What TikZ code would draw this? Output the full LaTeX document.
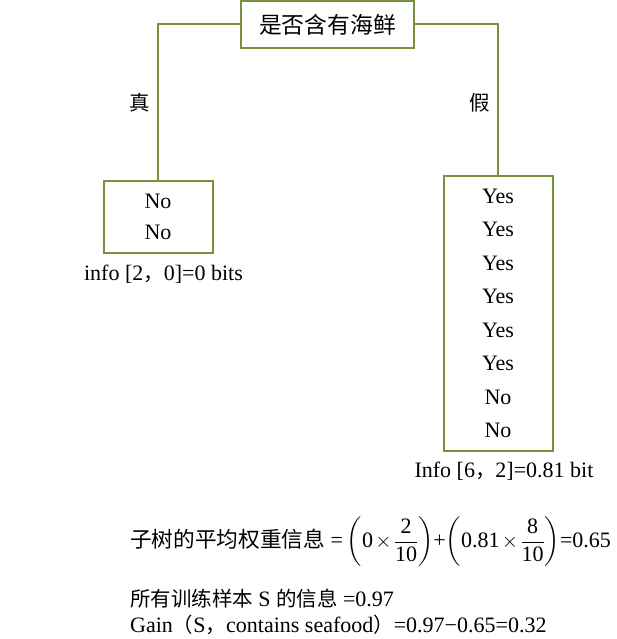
\documentclass[tikz,border=0pt]{standalone}
\usepackage{amsmath}
\usepackage{fontspec}
\setmainfont{Liberation Serif}
\newfontfamily\zh[Scale=0.93]{Noto Sans CJK SC}
\usepackage{tikz}
\usetikzlibrary{positioning}
\definecolor{olivebox}{RGB}{118,146,60}

\tikzset{
    leafbox/.style={draw=olivebox, line width=2pt, align=center, inner sep=0pt},
    branch/.style={draw=olivebox, line width=2pt},
    txt/.style={inner sep=0pt}
}

\begin{document}
\begin{tikzpicture}[x=1pt, y=-1pt, font=\fontsize{22}{26}\selectfont]
    \useasboundingbox (0,0) rectangle (616,639);
    % root test
    \node[leafbox, minimum width=173pt, minimum height=47pt, font=\fontsize{24.5}{28}\selectfont] (root) at (327.5,24.5) {\zh 是否含有海鲜};
    % leaves
    \node[leafbox, minimum width=109pt, minimum height=72pt, font=\fontsize{22}{31}\selectfont] (nobox) at (158,216.5) {No\\No};
    \node[leafbox, minimum width=109pt, minimum height=275pt, font=\fontsize{22}{33.5}\selectfont] (yesbox) at (498,313.5) {Yes\\Yes\\Yes\\Yes\\Yes\\Yes\\No\\No};
    \draw[branch] (root.west) -| (nobox.north);
    \draw[branch] (root.east) -| (yesbox.north);
    \node[txt] (true) at (140,103) {\zh 真};
    \node[txt] (false) at (480,103) {\zh 假};
    % information of each leaf
    \node[txt] (infoL) at (163.5,274) {info [2{\zh ，}0]=0 bits};
    \node[txt] (infoR) at (504,471.5) {Info [6{\zh ，}2]=0.81 bit};
    % gain
    \node[txt, anchor=west] (avg) at (130,542) {{\fontsize{23.3}{26}\selectfont\zh 子树的平均权重信息} =\,$\left(\text{0}\mkern2mu{\times}\mkern2mu\dfrac{\text{2}}{\text{10}}\right)$+$\left(\text{0.81}\mkern2mu{\times}\mkern2mu\dfrac{\text{8}}{\text{10}}\right)$=0.65};
    \node[txt, anchor=west] (all) at (130,599) {{\zh 所有训练样本} S {\zh 的信息} =0.97};
    \node[txt, anchor=west] (gain) at (130,625) {Gain{\zh （}S{\zh ，}contains seafood{\zh ）}=0.97−0.65=0.32};
\end{tikzpicture}
\end{document}
